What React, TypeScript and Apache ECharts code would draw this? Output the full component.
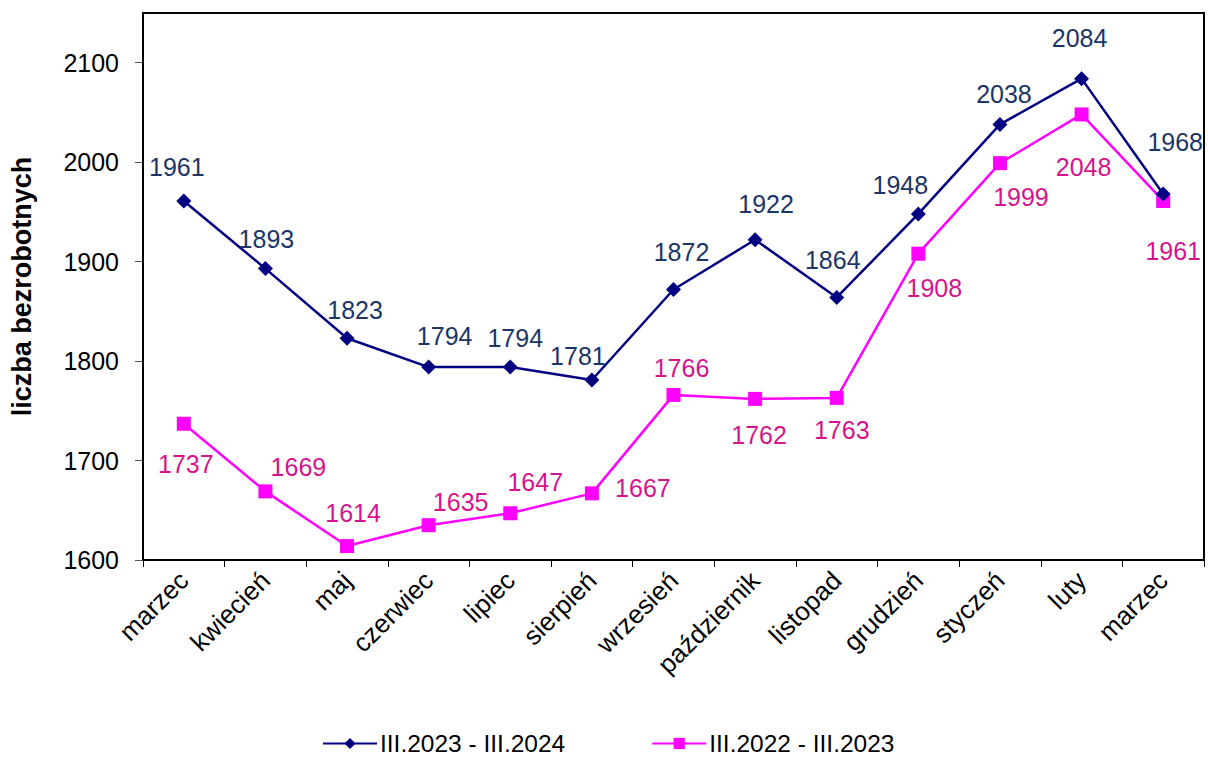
import React, { useEffect, useRef } from "react";
import * as echarts from "echarts";

const categories = [
  "marzec", "kwiecień", "maj", "czerwiec", "lipiec", "sierpień", "wrzesień",
  "październik", "listopad", "grudzień", "styczeń", "luty", "marzec",
];
const seriesNames = ["III.2023 - III.2024", "III.2022 - III.2023"];
const values2324 = [1961, 1893, 1823, 1794, 1794, 1781, 1872, 1922, 1864, 1948, 2038, 2084, 1968];
const values2223 = [1737, 1669, 1614, 1635, 1647, 1667, 1766, 1762, 1763, 1908, 1999, 2048, 1961];
const yTicks = { min: 1600, max: 2150, interval: 100 };
const yTitle = "liczba bezrobotnych";

// label placement offsets (dx, dy) relative to the point
const offsets2324 = [
  [-7, -34], [1, -30], [8, -28], [16, -31], [5, -29], [-14, -24], [8, -37],
  [11, -36], [-4, -37], [-18, -29], [4, -30], [-2, -41], [12, -52],
];
const offsets2223 = [
  [2, 40], [33, -24], [6, -33], [32, -23], [25, -31], [51, -5], [8, -27],
  [4, 36], [5, 32], [16, 34], [21, 34], [2, 53], [10, 50],
];

const FONT = "'Liberation Sans', Arial, sans-serif";

export default function App() {
  const ref = useRef<HTMLDivElement>(null);
  useEffect(() => {
    if (!ref.current) return;
    const chart = echarts.init(ref.current, null, { renderer: "svg" });
    const mk = (vals: number[], offs: number[][]) =>
      vals.map((v, i) => ({
        value: v,
        label: { offset: offs[i] },
      }));
    chart.setOption({
      animation: false,
      backgroundColor: "#ffffff",
      textStyle: { fontFamily: FONT },
      grid: {
        left: 142,
        right: 4,
        top: 13,
        bottom: 197,
        show: true,
        borderColor: "#000000",
        borderWidth: 2,
        backgroundColor: "transparent",
      },
      legend: {
        left: 322,
        top: 731,
        padding: 0,
        itemGap: 86,
        itemWidth: 54,
        itemHeight: 14,
        textStyle: {
          fontFamily: FONT,
          fontSize: 24.5,
          lineHeight: 22,
          color: "#000000",
          padding: [0, 0, 0, -2],
        },
        data: seriesNames,
      },
      xAxis: {
        type: "category",
        data: categories,
        boundaryGap: true,
        axisLine: { lineStyle: { color: "#000000", width: 2 } },
        axisTick: { show: true, length: 7, lineStyle: { color: "#000000", width: 1 } },
        axisLabel: {
          rotate: 45,
          margin: 16,
          interval: 0,
          fontFamily: FONT,
          fontSize: 26,
          color: "#000000",
        },
        splitLine: { show: false },
      },
      yAxis: {
        type: "value",
        min: yTicks.min,
        max: yTicks.max,
        interval: yTicks.interval,
        name: yTitle,
        nameLocation: "middle",
        nameGap: 108,
        nameRotate: 90,
        nameTextStyle: { fontFamily: FONT, fontSize: 27, fontWeight: "bold", color: "#000000" },
        axisLine: { show: true, lineStyle: { color: "#000000", width: 2 } },
        axisTick: { show: true, length: 8, lineStyle: { color: "#555555", width: 1 } },
        axisLabel: {
          showMaxLabel: false,
          margin: 24,
          fontFamily: FONT,
          fontSize: 25,
          color: "#000000",
          formatter: (v: number) => String(v),
        },
        splitLine: { show: false },
      },
      series: [
        {
          name: seriesNames[0],
          type: "line",
          data: mk(values2324, offsets2324),
          symbol: "diamond",
          symbolSize: 15,
          itemStyle: { color: "#000080" },
          lineStyle: { color: "#000080", width: 2.5 },
          label: {
            show: true,
            position: "inside",
            fontFamily: FONT,
            fontSize: 25,
            color: "#1c3567",
          },
          z: 3,
        },
        {
          name: seriesNames[1],
          type: "line",
          data: mk(values2223, offsets2223),
          symbol: "rect",
          symbolSize: 14,
          itemStyle: { color: "#ff00ff" },
          lineStyle: { color: "#ff00ff", width: 2.5 },
          label: {
            show: true,
            position: "inside",
            fontFamily: FONT,
            fontSize: 25,
            color: "#d4148c",
          },
          z: 2,
        },
      ],
    });
    return () => chart.dispose();
  }, []);
  return (
    <div
      ref={ref}
      style={{ position: "fixed", left: 0, top: 0, width: 1208, height: 757, background: "#fff" }}
    />
  );
}
